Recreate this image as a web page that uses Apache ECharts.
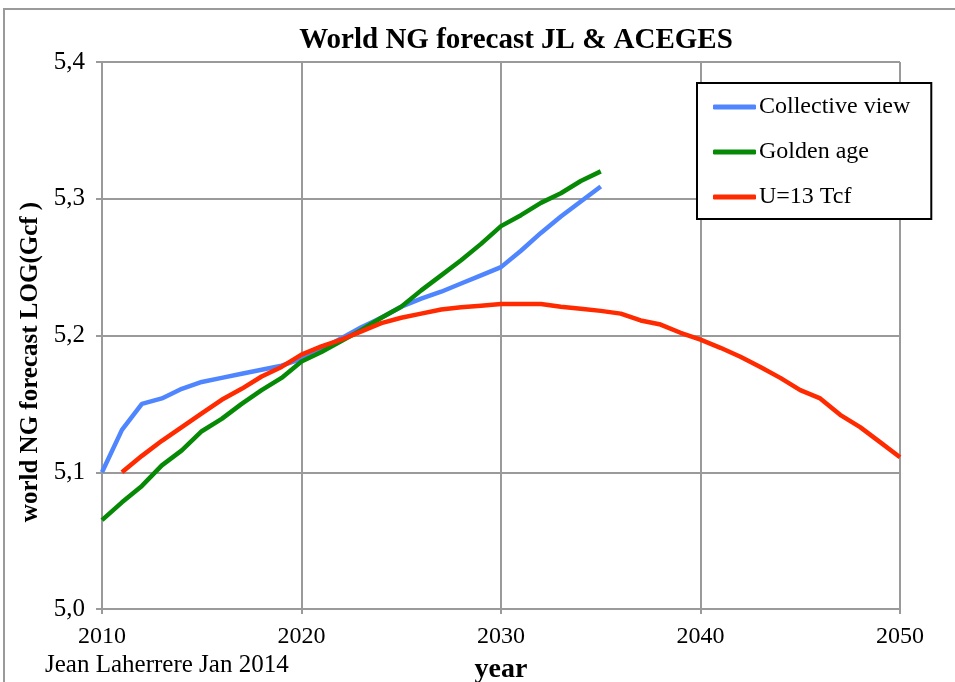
<!DOCTYPE html>
<html><head><meta charset="utf-8">
<script src="https://cdn.jsdelivr.net/npm/echarts@6/dist/echarts.min.js"></script>
<style>html,body{margin:0;padding:0;background:#fff}#c{width:955px;height:682px}</style>
</head><body><div id="c"></div>
<script>
const title = 'World NG forecast JL & ACEGES';
const yAxisName = 'world NG forecast LOG(Gcf )';
const xAxisName = 'year';
const credit = 'Jean Laherrere Jan 2014';
const seriesNames = ['Collective view', 'Golden age', 'U=13 Tcf'];
const xTickLabels = ['2010', '2020', '2030', '2040', '2050'];
const yTickLabels = ['5,0', '5,1', '5,2', '5,3', '5,4'];

const blueYears = [2010,2011,2012,2013,2014,2015,2016,2017,2018,2019,2020,2021,2022,2023,2024,2025,2026,2027,2028,2029,2030,2031,2032,2033,2034,2035];
const blueVals  = [5.100,5.131,5.150,5.154,5.161,5.166,5.169,5.172,5.175,5.178,5.183,5.190,5.198,5.206,5.213,5.221,5.227,5.232,5.238,5.244,5.250,5.262,5.275,5.287,5.298,5.309];

const greenYears = [2010,2011,2012,2013,2014,2015,2016,2017,2018,2019,2020,2021,2022,2023,2024,2025,2026,2027,2028,2029,2030,2031,2032,2033,2034,2035];
const greenVals  = [5.065,5.078,5.090,5.105,5.116,5.130,5.139,5.150,5.160,5.169,5.181,5.188,5.196,5.204,5.213,5.221,5.233,5.244,5.255,5.267,5.280,5.288,5.297,5.304,5.313,5.320];

const redYears = [2011,2012,2013,2014,2015,2016,2017,2018,2019,2020,2021,2022,2023,2024,2025,2026,2027,2028,2029,2030,2031,2032,2033,2034,2035,2036,2037,2038,2039,2040,2041,2042,2043,2044,2045,2046,2047,2048,2049,2050];
const redVals  = [5.100,5.112,5.123,5.133,5.143,5.153,5.161,5.170,5.177,5.186,5.192,5.197,5.203,5.209,5.213,5.216,5.219,5.2206,5.2218,5.223,5.223,5.223,5.221,5.2196,5.218,5.216,5.211,5.208,5.202,5.197,5.191,5.1845,5.177,5.169,5.160,5.154,5.142,5.133,5.122,5.111];

const colors = ['#4f86ff', '#068a06', '#ff2a00'];
const serif = '"Liberation Serif", "DejaVu Serif", serif';

function zip(xs, ys){ return xs.map((x,i)=>[x, ys[i]]); }

const chart = echarts.init(document.getElementById('c'));
chart.setOption({
  animation: false,
  title: {
    text: title, left: 511, top: 21, textAlign: 'center',
    textStyle: {fontFamily: serif, fontSize: 29, fontWeight: 'bold', color: '#000'}
  },
  graphic: [
    {type: 'rect', shape: {x: 4, y: 9, width: 960, height: 700}, style: {fill: 'none', stroke: '#9a9a9a', lineWidth: 2}, z: -1},
    {type: 'text', x: 45, y: 665, style: {text: credit, font: '25px ' + serif, fill: '#000', verticalAlign: 'middle'}},
    {type: 'text', x: 31, y: 362, rotation: Math.PI / 2,
     style: {text: yAxisName, font: 'bold 25px ' + serif, fill: '#000', align: 'center', verticalAlign: 'middle'}}
  ],
  legend: {
    orient: 'vertical', left: 697, top: 83,
    backgroundColor: '#fff',
    borderColor: '#000', borderWidth: 2,
    padding: [12, 21, 10, 16],
    itemWidth: 43, itemHeight: 5, itemGap: 21,
    icon: 'roundRect',
    textStyle: {fontFamily: serif, fontSize: 24, color: '#000', padding: [0, 0, 0, -2]},
    data: seriesNames
  },
  grid: {left: 102, right: 55, top: 62, bottom: 73, containLabel: false, outerBoundsMode: 'none'},
  xAxis: {
    type: 'value', min: 2010, max: 2050, interval: 10,
    name: xAxisName, nameLocation: 'middle', nameGap: 47,
    nameTextStyle: {fontFamily: serif, fontSize: 28, fontWeight: 'bold', color: '#000'},
    axisLine: {lineStyle: {color: '#9a9a9a', width: 2}},
    axisTick: {show: true, length: 5, lineStyle: {color: '#9a9a9a', width: 2}},
    axisLabel: {fontFamily: serif, fontSize: 24, color: '#000', margin: 16,
      formatter: v => xTickLabels[Math.round((v - 2010) / 10)]},
    splitLine: {show: true, lineStyle: {color: '#9a9a9a', width: 2}}
  },
  yAxis: {
    type: 'value', min: 5.0, max: 5.4, interval: 0.1,
    axisLine: {show: true, lineStyle: {color: '#9a9a9a', width: 2}},
    axisTick: {show: true, length: 6, lineStyle: {color: '#9a9a9a', width: 2}},
    axisLabel: {fontFamily: serif, fontSize: 25, color: '#000', margin: 17,
      formatter: v => yTickLabels[Math.round((v - 5.0) / 0.1)]},
    splitLine: {show: true, lineStyle: {color: '#9a9a9a', width: 2}}
  },
  series: [
    {name: seriesNames[0], type: 'line', data: zip(blueYears, blueVals), showSymbol: false, symbol: 'none',
     lineStyle: {color: colors[0], width: 4.5}, itemStyle: {color: colors[0]}, z: 3},
    {name: seriesNames[1], type: 'line', data: zip(greenYears, greenVals), showSymbol: false, symbol: 'none',
     lineStyle: {color: colors[1], width: 4.5}, itemStyle: {color: colors[1]}, z: 4},
    {name: seriesNames[2], type: 'line', data: zip(redYears, redVals), showSymbol: false, symbol: 'none',
     lineStyle: {color: colors[2], width: 4.5}, itemStyle: {color: colors[2]}, z: 5}
  ]
});
</script>
</body></html>
